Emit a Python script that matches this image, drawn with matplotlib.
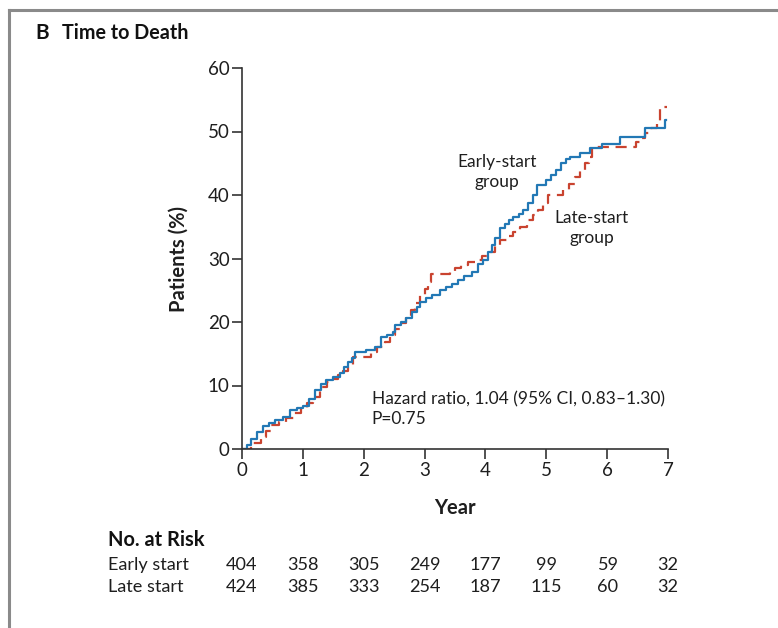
import matplotlib
matplotlib.use("Agg")
import matplotlib.pyplot as plt
import matplotlib.transforms as mtransforms
from matplotlib.lines import Line2D

plt.rcParams['font.family'] = ['Lato', 'DejaVu Sans']

# ---- data ----
early_t = [0, 0.08, 0.15, 0.25, 0.35, 0.45, 0.55, 0.67, 0.79, 0.90,
           1.00, 1.10, 1.20, 1.30, 1.38, 1.50, 1.61, 1.68, 1.74, 1.80,
           1.86, 2.04, 2.19, 2.28, 2.38, 2.48, 2.51, 2.62, 2.70, 2.80,
           2.87, 2.92, 3.02, 3.12, 3.25, 3.35, 3.45, 3.55, 3.65, 3.78,
           3.88, 3.96, 4.04, 4.10, 4.16, 4.24, 4.32, 4.38, 4.45, 4.55,
           4.62, 4.70, 4.78, 4.85, 5.00, 5.08, 5.16, 5.24, 5.32, 5.39,
           5.55, 5.72, 5.92, 6.21, 6.62, 6.95]
early_p = [0, 0.7, 1.5, 2.6, 3.6, 4.1, 4.6, 5.0, 6.1, 6.4,
           6.8, 7.9, 9.3, 10.2, 10.9, 11.4, 12.0, 12.9, 13.7, 14.4,
           15.3, 15.6, 16.1, 17.6, 18.0, 18.4, 19.5, 20.0, 20.6, 21.5,
           22.4, 23.2, 23.8, 24.3, 25.0, 25.5, 26.0, 26.6, 27.2, 27.8,
           29.2, 29.8, 31.0, 32.2, 33.2, 34.8, 35.5, 36.0, 36.5, 37.0,
           37.6, 38.8, 40.0, 41.6, 42.3, 43.1, 44.0, 45.0, 45.6, 46.0,
           46.6, 47.4, 48.0, 49.1, 50.5, 51.8]
early_end = 6.97

late_t = [0, 0.15, 0.31, 0.40, 0.48, 0.60, 0.72, 0.85, 0.97, 1.07,
          1.17, 1.28, 1.40, 1.50, 1.58, 1.66, 1.74, 1.82, 2.12, 2.22,
          2.35, 2.43, 2.52, 2.61, 2.70, 2.78, 2.85, 2.92, 3.00, 3.06,
          3.10, 3.42, 3.50, 3.60, 3.72, 3.83, 3.95, 4.07, 4.15, 4.24,
          4.35, 4.45, 4.57, 4.68, 4.78, 4.86, 4.95, 5.03, 5.27, 5.37,
          5.47, 5.56, 5.64, 5.70, 5.75, 6.47, 6.55, 6.62, 6.72, 6.82,
          6.87]
late_p = [0, 0.9, 1.9, 2.8, 3.8, 4.3, 4.9, 5.7, 6.5, 7.3,
          8.2, 9.8, 10.5, 11.1, 11.7, 12.3, 12.9, 14.5, 15.3, 16.0,
          16.9, 18.0, 18.9, 19.8, 20.8, 21.9, 23.0, 24.2, 25.2, 26.3,
          27.6, 28.0, 28.5, 29.0, 29.5, 29.8, 30.4, 31.0, 32.0, 32.9,
          33.6, 34.2, 35.0, 36.0, 36.8, 37.6, 38.8, 40.0, 40.8, 41.8,
          42.8, 44.0, 45.0, 46.0, 47.5, 48.3, 49.0, 49.8, 50.6, 51.5,
          53.8]
late_end = 6.98

risk_years = [0, 1, 2, 3, 4, 5, 6, 7]
risk_early = [404, 358, 305, 249, 177, 99, 59, 32]
risk_late = [424, 385, 333, 254, 187, 115, 60, 32]

x_ticks = [0, 1, 2, 3, 4, 5, 6, 7]
y_ticks = [0, 10, 20, 30, 40, 50, 60]

BLUE = '#2278b5'
RED = '#c9432f'
AX = '#333333'
TXT = '#1e1e1e'

fig = plt.figure(figsize=(7.78, 6.28), dpi=100)
W, H = 778, 628
ax = fig.add_axes([242 / W, 1 - 449 / H, (668 - 242) / W, (449 - 68) / H])

ax.step(late_t + [late_end], late_p + [late_p[-1]], where='post', color=RED,
        lw=1.6, dashes=(5, 3))
ax.step(early_t + [early_end], early_p + [early_p[-1]], where='post',
        color=BLUE, lw=1.6)

ax.set_xlim(0, 7)
ax.set_ylim(0, 60)
ax.set_xticks(x_ticks)
ax.set_yticks(y_ticks)
for s in ['top', 'right']:
    ax.spines[s].set_visible(False)
for s in ['left', 'bottom']:
    ax.spines[s].set_color(AX)
    ax.spines[s].set_linewidth(1.2)
ax.tick_params(direction='out', length=7, width=1.2, color=AX,
               labelsize=13.5, pad=2, labelcolor=TXT)
ax.set_xlabel('Year', fontsize=14.5, fontweight='bold', labelpad=14,
              color=TXT)
ax.set_ylabel('Patients (%)', fontsize=14.5, fontweight='bold', labelpad=14,
              color=TXT)
ax.patch.set_alpha(0)

# annotations
ax.text(4.19, 43.6, 'Early-start\ngroup', ha='center', va='center',
        fontsize=12.5, linespacing=1.35, color=TXT)
ax.text(5.75, 34.8, 'Late-start\ngroup', ha='center', va='center',
        fontsize=12.5, linespacing=1.35, color=TXT)
ax.text(2.13, 6.3, 'Hazard ratio, 1.04 (95% CI, 0.83\u20131.30)\nP=0.75',
        ha='left', va='center', fontsize=12.5, linespacing=1.3,
        color=TXT)

# title
fig.text(35 / W, 1 - 33 / H, 'B', fontsize=15, fontweight='bold',
         ha='left', va='center', color='#111111')
fig.text(62 / W, 1 - 33 / H, 'Time to Death', fontsize=14.2,
         fontweight='bold', ha='left', va='center', color='#111111')

# risk table
trans = mtransforms.blended_transform_factory(ax.transData, fig.transFigure)
fig.text(108 / W, 1 - 540 / H, 'No. at Risk', fontsize=14.4,
         fontweight='bold', ha='left', va='center', color='#111111')
fig.text(108 / W, 1 - 565 / H, 'Early start', fontsize=13.1,
         ha='left', va='center', color=TXT)
fig.text(108 / W, 1 - 587 / H, 'Late start', fontsize=13.1,
         ha='left', va='center', color=TXT)
for yr, e, l in zip(risk_years, risk_early, risk_late):
    fig.text(yr, 1 - 565 / H, str(e), transform=trans, ha='center',
             va='center', fontsize=13.1, color=TXT)
    fig.text(yr, 1 - 587 / H, str(l), transform=trans, ha='center',
             va='center', fontsize=13.1, color=TXT)

# frame lines (panel border)
fig.add_artist(Line2D([9 / W, 1], [1 - 10 / H, 1 - 10 / H],
                      transform=fig.transFigure, color='#8a8a8a', lw=2.2))
fig.add_artist(Line2D([9 / W, 9 / W], [0, 1 - 10 / H],
                      transform=fig.transFigure, color='#8a8a8a', lw=2.2))

fig.savefig('out.png', dpi=100)
